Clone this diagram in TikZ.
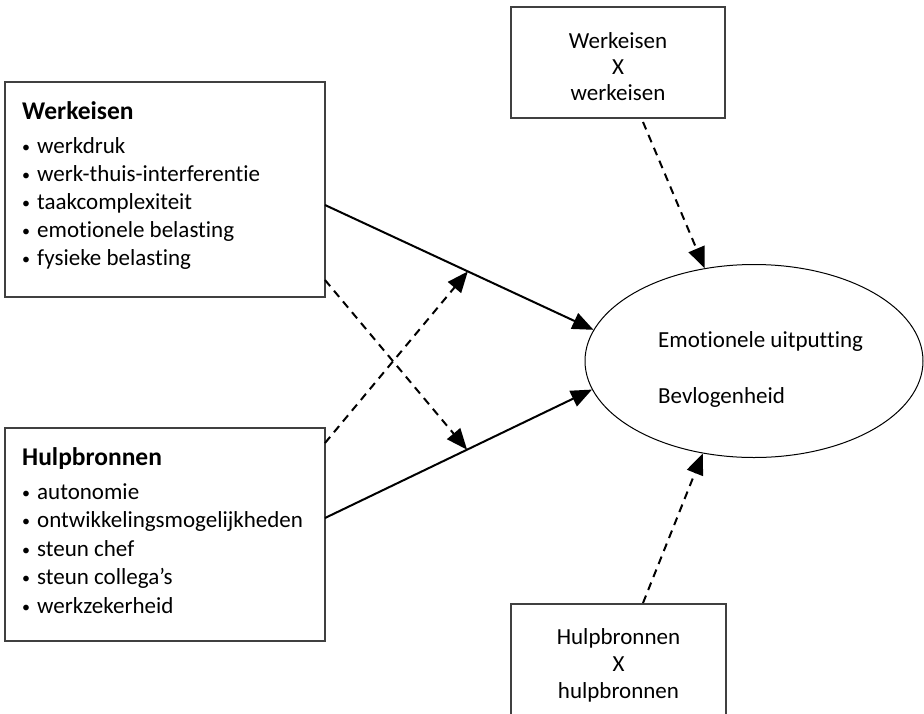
\documentclass[tikz,border=0pt]{standalone}
\usepackage{fontspec}
\setmainfont{Carlito}[Ligatures=NoCommon]
\usetikzlibrary{arrows.meta,shapes.geometric}
\newcommand\mybul{\makebox[15pt][l]{\raisebox{1pt}{\fontsize{16}{16}\selectfont•}}}
\begin{document}
\begin{tikzpicture}[x=1pt,y=-1pt,
  box/.style={draw=black!75,line width=1.2pt,rectangle,inner sep=0pt},
  txt/.style={font=\fontsize{23}{26}\selectfont,inner sep=0pt},
  head/.style={font=\fontsize{25.5}{26}\selectfont\bfseries,inner sep=0pt},
  ctxt/.style={txt,align=center},
  solidarrow/.style={line width=2pt,-{Triangle[length=21pt,width=17pt]}},
  dasharrow/.style={line width=2pt,dash pattern=on 8pt off 6pt,-{Triangle[length=21pt,width=17pt]}}
]
\useasboundingbox (0,0) rectangle (924,713);
\fill[white] (0,0) rectangle (924,713);
\clip (0,0) rectangle (924,713);

% left boxes
\node[box,minimum width=320pt,minimum height=215pt] (wbox) at (165,189.5) {};
\node[box,minimum width=320pt,minimum height=213pt] (hbox) at (165,534.5) {};
\node[head,anchor=base west] (wh) at (22,119) {Werkeisen};
\foreach \t [count=\i] in {werkdruk, werk-thuis-interferentie, taakcomplexiteit, emotionele belasting, fysieke belasting}
  \node[txt,anchor=base west] (wi\i) at (22,125+28*\i) {\mybul\t};
\node[head,anchor=base west] (hh) at (22,465) {Hulpbronnen};
\foreach \t [count=\i] in {autonomie, ontwikkelingsmogelijkheden, steun chef, steun collega’s, werkzekerheid}
  \node[txt,anchor=base west] (hi\i) at (22,470.5+28.5*\i) {\mybul\t};

% interaction boxes
\node[box,minimum width=214pt,minimum height=111pt] (tbox) at (618,62.5) {};
\node[ctxt] (tt) at (618,66.5) {Werkeisen\\X\\werkeisen};
\node[box,minimum width=215pt,minimum height=130pt] (bbox) at (618.5,669) {};
\node[ctxt,font=\fontsize{23}{27}\selectfont] (bt) at (618.5,665) {Hulpbronnen\\X\\hulpbronnen};

% outcome ellipse
\node[draw,ellipse,line width=1pt,minimum width=338pt,minimum height=193pt,inner sep=0pt] (em) at (754,361) {};
\node[txt,anchor=base west] (e1) at (658,347) {Emotionele uitputting};
\node[txt,anchor=base west] (e2) at (658,403) {Bevlogenheid};

% connectors
\coordinate (ws) at (325,205);
\coordinate (wd) at (325,280);
\coordinate (hs) at (325,518);
\coordinate (hd) at (325,443);
\coordinate (ts) at (643,122);
\coordinate (bs) at (643,603);
\draw[solidarrow] (ws) -- coordinate[pos=0.532] (mw) (em.169.2);
\draw[solidarrow] (hs) -- coordinate[pos=0.532] (mh) (em.190.8);
\draw[dasharrow] (wd) -- (mh);
\draw[dasharrow] (hd) -- (mw);
\draw[dasharrow] (ts) -- (em.118.5);
\draw[dasharrow] (bs) -- (em.241.5);
\end{tikzpicture}
\end{document}
